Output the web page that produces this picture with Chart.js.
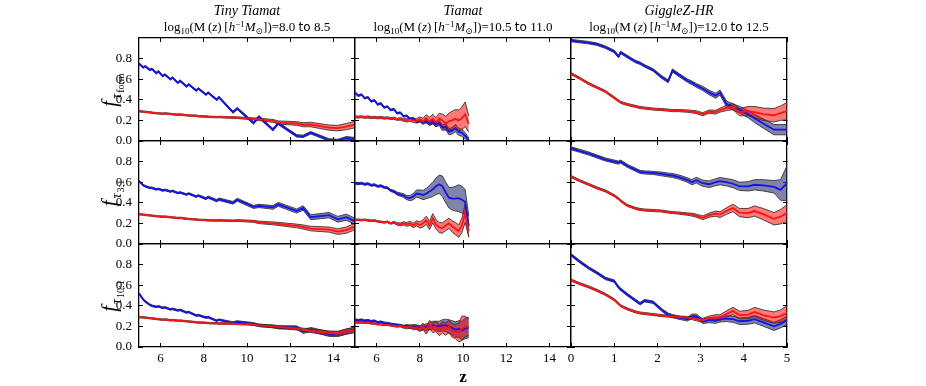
<!DOCTYPE html>
<html>
<head>
<meta charset="utf-8">
<script src="https://cdn.jsdelivr.net/npm/chart.js@4.4.1/dist/chart.umd.min.js"></script>
<style>
  body { margin: 0; background: #fff; }
  #wrap { position: relative; width: 926px; height: 386px; overflow: hidden; font-family: "Liberation Serif", "DejaVu Serif", serif; color: #000; }
  canvas { position: absolute; }
  .ttl { position: absolute; top: 3px; transform: translateX(-50%); text-align: center; white-space: nowrap; }
  .ttl .name { font-style: italic; font-size: 14px; line-height: 16px; }
  .ttl .mass { font-size: 13px; line-height: 16px; }
  .ttl .lo { display: inline-block; position: relative; top: 3px; font-size: 9px; }
  .ttl .hi { display: inline-block; position: relative; top: -4px; font-size: 9px; }
  .sf { font-family: "DejaVu Sans", sans-serif; font-size: 12px; }
  .ylab { position: absolute; left: 111px; transform: translate(-50%, -50%) rotate(-90deg); white-space: nowrap; line-height: 20px; }
  .ylab .f { font-style: italic; font-size: 21px; }
  .ylab .tau { display: inline-block; position: relative; top: 5px; font-style: italic; font-size: 14px; margin-left: 2px; }
  .ylab .sub { display: inline-block; position: relative; top: 8px; font-size: 10px; margin-left: 1px; }
  #zlab { position: absolute; left: 463px; top: 377px; transform: translate(-50%, -50%); font-weight: bold; font-size: 17px; }
</style>
</head>
<body>
<div id="wrap"></div>
<script>
// columns / rows
const simNames = ["Tiny Tiamat", "Tiamat", "GiggleZ-HR"];
const massLow = ["8.0", "10.5", "12.0"];
const massHigh = ["8.5", "11.0", "12.5"];
const rowSubs = ["form", "3:1", "10:1"];

// tick labels
const yTicks = [0, 0.2, 0.4, 0.6, 0.8];
const zTicksTiamat = [6, 8, 10, 12, 14];
const zTicksGiggle = [0, 1, 2, 3, 4, 5];

// redshift grids
const zTiny = [5.0,5.2,5.3,5.5,5.6,5.8,5.9,6.1,6.2,6.45,6.55,6.8,6.9,7.2,7.3,7.65,7.75,8.1,8.2,8.6,8.7,9.35,9.55,10.3,10.55,11.2,11.45,12.3,12.6,12.95,13.8,14.2,14.6,15.0];
const zTiamat = [5.0,5.15,5.3,5.45,5.6,5.75,5.9,6.05,6.2,6.35,6.5,6.65,6.8,6.95,7.1,7.25,7.4,7.55,7.7,7.85,8.0,8.15,8.3,8.45,8.6,8.75,8.9,9.05,9.2,9.35,9.5,9.65,9.8,9.95,10.1,10.27];
const zGiggle = [0,0.2,0.4,0.6,0.8,1.0,1.1,1.15,1.3,1.5,1.6,1.7,1.9,2.1,2.25,2.35,2.5,2.7,2.8,2.9,3.05,3.2,3.35,3.45,3.6,3.75,3.9,4.1,4.25,4.45,4.7,4.85,5.0];

// f_tau_form
const formTinyBlue = [0.75,0.715,0.725,0.69,0.70,0.66,0.675,0.63,0.645,0.60,0.615,0.565,0.585,0.53,0.55,0.49,0.51,0.45,0.47,0.40,0.425,0.28,0.315,0.175,0.235,0.11,0.17,0.05,0.045,0.08,0.01,0.005,0.03,0.02];
const formTinyBlueErr = [0.008,0.008,0.008,0.008,0.008,0.008,0.008,0.008,0.008,0.008,0.008,0.008,0.008,0.008,0.008,0.008,0.008,0.008,0.008,0.008,0.008,0.01,0.01,0.012,0.012,0.012,0.012,0.012,0.012,0.012,0.012,0.012,0.014,0.014];
const formTinyRed = [0.29,0.285,0.283,0.278,0.275,0.27,0.268,0.265,0.268,0.262,0.26,0.255,0.257,0.25,0.248,0.245,0.24,0.238,0.235,0.232,0.233,0.228,0.226,0.215,0.21,0.195,0.18,0.17,0.158,0.16,0.13,0.125,0.14,0.16];
const formTinyRedErr = [0.007,0.007,0.007,0.007,0.007,0.007,0.007,0.007,0.007,0.007,0.007,0.007,0.007,0.007,0.007,0.007,0.007,0.007,0.007,0.007,0.007,0.008,0.008,0.01,0.012,0.014,0.015,0.018,0.02,0.022,0.025,0.027,0.03,0.032];

const formTiamatBlue = [0.47,0.44,0.45,0.415,0.425,0.385,0.395,0.355,0.365,0.325,0.335,0.30,0.31,0.27,0.275,0.24,0.245,0.215,0.22,0.19,0.20,0.185,0.19,0.17,0.185,0.16,0.175,0.13,0.14,0.09,0.10,0.125,0.09,0.08,0.05,0.01];
const formTiamatBlueErr = [0.008,0.008,0.008,0.008,0.008,0.008,0.008,0.008,0.008,0.008,0.008,0.008,0.008,0.008,0.008,0.008,0.008,0.008,0.01,0.01,0.012,0.014,0.016,0.018,0.02,0.022,0.025,0.028,0.03,0.03,0.032,0.035,0.035,0.035,0.03,0.02];
const formTiamatRed = [0.235,0.232,0.235,0.23,0.233,0.228,0.23,0.225,0.228,0.222,0.225,0.218,0.22,0.21,0.215,0.205,0.2,0.21,0.2,0.195,0.21,0.19,0.22,0.19,0.215,0.18,0.22,0.2,0.17,0.19,0.2,0.215,0.2,0.22,0.26,0.165];
const formTiamatRedErr = [0.01,0.01,0.01,0.01,0.01,0.01,0.01,0.01,0.01,0.01,0.01,0.01,0.01,0.01,0.012,0.014,0.016,0.018,0.02,0.022,0.025,0.03,0.035,0.04,0.045,0.045,0.05,0.06,0.07,0.08,0.09,0.09,0.1,0.11,0.12,0.08];

const formGiggleBlue = [0.975,0.965,0.955,0.94,0.91,0.87,0.82,0.86,0.82,0.77,0.755,0.73,0.69,0.62,0.58,0.685,0.64,0.585,0.565,0.54,0.51,0.47,0.44,0.47,0.36,0.33,0.305,0.26,0.22,0.17,0.11,0.11,0.11];
const formGiggleBlueErr = [0.012,0.012,0.012,0.012,0.012,0.012,0.012,0.012,0.012,0.012,0.012,0.012,0.012,0.014,0.014,0.015,0.015,0.016,0.017,0.018,0.02,0.022,0.024,0.025,0.028,0.03,0.032,0.035,0.04,0.045,0.05,0.05,0.05];
const formGiggleRed = [0.655,0.61,0.56,0.52,0.48,0.42,0.39,0.375,0.355,0.335,0.325,0.32,0.31,0.305,0.30,0.295,0.295,0.29,0.285,0.28,0.26,0.285,0.28,0.30,0.32,0.335,0.28,0.29,0.28,0.26,0.25,0.27,0.29];
const formGiggleRedErr = [0.01,0.01,0.01,0.01,0.01,0.01,0.01,0.01,0.01,0.01,0.01,0.01,0.01,0.01,0.01,0.01,0.01,0.012,0.012,0.014,0.015,0.016,0.018,0.02,0.025,0.03,0.035,0.045,0.055,0.06,0.065,0.07,0.085];

// f_tau_3:1
const ratioTinyBlue = [0.61,0.57,0.56,0.545,0.545,0.53,0.535,0.52,0.525,0.51,0.515,0.495,0.50,0.48,0.49,0.46,0.47,0.44,0.455,0.42,0.435,0.40,0.43,0.36,0.37,0.355,0.385,0.32,0.35,0.26,0.28,0.24,0.26,0.22];
const ratioTinyBlueErr = [0.008,0.008,0.008,0.008,0.008,0.008,0.008,0.008,0.008,0.008,0.008,0.008,0.008,0.008,0.008,0.008,0.008,0.01,0.01,0.011,0.012,0.013,0.014,0.015,0.016,0.018,0.019,0.02,0.022,0.024,0.026,0.028,0.03,0.03];
const ratioTinyRed = [0.29,0.285,0.282,0.278,0.275,0.27,0.268,0.265,0.266,0.26,0.258,0.252,0.254,0.245,0.243,0.238,0.235,0.232,0.23,0.228,0.23,0.225,0.228,0.22,0.21,0.2,0.195,0.175,0.165,0.15,0.14,0.12,0.135,0.17];
const ratioTinyRedErr = [0.007,0.007,0.007,0.007,0.007,0.007,0.007,0.007,0.007,0.007,0.007,0.007,0.007,0.007,0.007,0.007,0.007,0.007,0.007,0.007,0.007,0.008,0.008,0.01,0.012,0.014,0.015,0.018,0.02,0.022,0.025,0.027,0.03,0.032];

const ratioTiamatBlue = [0.59,0.585,0.59,0.58,0.585,0.57,0.575,0.56,0.565,0.55,0.545,0.52,0.51,0.49,0.48,0.47,0.45,0.445,0.46,0.49,0.485,0.475,0.49,0.51,0.53,0.56,0.58,0.56,0.50,0.45,0.44,0.44,0.445,0.43,0.41,0.17];
const ratioTiamatBlueErr = [0.01,0.01,0.01,0.01,0.01,0.01,0.01,0.01,0.01,0.01,0.01,0.01,0.012,0.014,0.016,0.018,0.02,0.025,0.03,0.035,0.04,0.045,0.05,0.06,0.07,0.08,0.09,0.1,0.1,0.1,0.11,0.12,0.13,0.13,0.12,0.1];
const ratioTiamatRed = [0.235,0.235,0.232,0.235,0.23,0.225,0.228,0.22,0.215,0.21,0.215,0.2,0.21,0.195,0.19,0.2,0.19,0.2,0.18,0.2,0.185,0.2,0.23,0.18,0.25,0.19,0.16,0.155,0.18,0.2,0.17,0.15,0.125,0.18,0.30,0.125];
const ratioTiamatRedErr = [0.008,0.008,0.008,0.008,0.008,0.008,0.008,0.008,0.008,0.008,0.008,0.008,0.01,0.012,0.014,0.016,0.018,0.02,0.022,0.025,0.03,0.035,0.04,0.04,0.045,0.045,0.05,0.05,0.05,0.05,0.055,0.06,0.06,0.07,0.09,0.06];

const ratioGiggleBlue = [0.93,0.905,0.88,0.85,0.82,0.80,0.79,0.80,0.76,0.72,0.70,0.695,0.69,0.68,0.67,0.665,0.65,0.62,0.60,0.62,0.59,0.58,0.60,0.61,0.60,0.585,0.56,0.56,0.575,0.57,0.555,0.525,0.59];
const ratioGiggleBlueErr = [0.015,0.015,0.015,0.015,0.015,0.015,0.015,0.015,0.015,0.015,0.015,0.015,0.015,0.018,0.018,0.02,0.02,0.022,0.025,0.028,0.03,0.032,0.034,0.035,0.036,0.038,0.04,0.045,0.05,0.055,0.06,0.1,0.17];
const ratioGiggleRed = [0.655,0.615,0.58,0.545,0.515,0.47,0.44,0.42,0.375,0.345,0.335,0.33,0.325,0.32,0.31,0.305,0.30,0.29,0.285,0.275,0.255,0.28,0.295,0.285,0.32,0.35,0.305,0.30,0.32,0.29,0.245,0.265,0.30];
const ratioGiggleRedErr = [0.01,0.01,0.01,0.01,0.01,0.01,0.01,0.01,0.01,0.01,0.01,0.01,0.01,0.01,0.01,0.01,0.01,0.012,0.014,0.015,0.018,0.02,0.025,0.028,0.032,0.036,0.04,0.045,0.05,0.055,0.06,0.07,0.08];

// f_tau_10:1
const tenTinyBlue = [0.52,0.46,0.44,0.41,0.40,0.39,0.395,0.38,0.385,0.365,0.37,0.355,0.36,0.335,0.34,0.305,0.31,0.285,0.29,0.255,0.265,0.235,0.245,0.225,0.21,0.20,0.19,0.19,0.15,0.17,0.125,0.125,0.15,0.17];
const tenTinyBlueErr = [0.008,0.008,0.008,0.008,0.008,0.008,0.008,0.008,0.008,0.008,0.008,0.008,0.008,0.008,0.008,0.008,0.008,0.008,0.008,0.008,0.008,0.01,0.01,0.012,0.012,0.014,0.015,0.016,0.018,0.02,0.022,0.024,0.025,0.025];
const tenTinyRed = [0.29,0.287,0.285,0.28,0.278,0.272,0.27,0.265,0.267,0.26,0.262,0.255,0.256,0.25,0.248,0.24,0.238,0.235,0.232,0.23,0.228,0.228,0.225,0.22,0.21,0.2,0.195,0.18,0.165,0.16,0.135,0.13,0.15,0.165];
const tenTinyRedErr = [0.007,0.007,0.007,0.007,0.007,0.007,0.007,0.007,0.007,0.007,0.007,0.007,0.007,0.007,0.007,0.007,0.007,0.007,0.007,0.007,0.007,0.008,0.008,0.01,0.011,0.012,0.013,0.015,0.017,0.019,0.021,0.023,0.025,0.025];

const tenTiamatBlue = [0.265,0.26,0.265,0.255,0.26,0.25,0.255,0.24,0.245,0.235,0.232,0.225,0.22,0.215,0.21,0.2,0.205,0.195,0.2,0.195,0.185,0.19,0.195,0.2,0.21,0.205,0.2,0.21,0.21,0.2,0.185,0.17,0.175,0.16,0.18,0.19];
const tenTiamatBlueErr = [0.008,0.008,0.008,0.008,0.008,0.008,0.008,0.008,0.008,0.008,0.008,0.008,0.008,0.008,0.01,0.012,0.014,0.016,0.018,0.02,0.022,0.025,0.03,0.035,0.04,0.045,0.05,0.055,0.06,0.065,0.07,0.075,0.08,0.09,0.1,0.1];
const tenTiamatRed = [0.24,0.238,0.24,0.235,0.237,0.23,0.228,0.22,0.222,0.215,0.218,0.21,0.205,0.2,0.205,0.195,0.19,0.2,0.185,0.19,0.175,0.2,0.16,0.22,0.185,0.2,0.16,0.19,0.175,0.2,0.16,0.15,0.14,0.18,0.2,0.19];
const tenTiamatRedErr = [0.008,0.008,0.008,0.008,0.008,0.008,0.008,0.008,0.008,0.008,0.008,0.008,0.008,0.008,0.01,0.012,0.014,0.016,0.018,0.02,0.025,0.03,0.035,0.04,0.045,0.05,0.05,0.055,0.06,0.06,0.065,0.07,0.09,0.12,0.1,0.08];

const tenGiggleBlue = [0.895,0.83,0.77,0.72,0.665,0.64,0.58,0.56,0.51,0.45,0.42,0.45,0.435,0.36,0.315,0.30,0.285,0.27,0.30,0.30,0.25,0.26,0.255,0.27,0.275,0.27,0.25,0.255,0.27,0.24,0.20,0.225,0.26];
const tenGiggleBlueErr = [0.012,0.012,0.012,0.012,0.012,0.012,0.012,0.012,0.012,0.012,0.012,0.012,0.012,0.013,0.014,0.015,0.016,0.018,0.02,0.02,0.022,0.024,0.025,0.027,0.028,0.03,0.032,0.034,0.036,0.038,0.04,0.04,0.04];
const tenGiggleRed = [0.65,0.615,0.585,0.55,0.51,0.46,0.42,0.40,0.37,0.34,0.33,0.325,0.315,0.305,0.30,0.295,0.29,0.285,0.28,0.27,0.26,0.28,0.29,0.285,0.32,0.35,0.31,0.315,0.34,0.31,0.285,0.30,0.33];
const tenGiggleRedErr = [0.01,0.01,0.01,0.01,0.01,0.01,0.01,0.01,0.01,0.01,0.01,0.01,0.01,0.01,0.01,0.01,0.01,0.012,0.014,0.016,0.018,0.02,0.024,0.028,0.032,0.035,0.038,0.04,0.045,0.05,0.055,0.06,0.07];

// layout of the grid of panels
const colLeft = [139, 355, 571];
const rowTop = [38, 141, 244];
const PW = 216, PH = 103;
const PADL = 45, PADR = 8, PADT = 8, PADB = 30;

const columns = [
  { z: zTiny, min: 5, max: 15, ticks: zTicksTiamat },
  { z: zTiamat, min: 5, max: 15, ticks: zTicksTiamat },
  { z: zGiggle, min: 0, max: 5, ticks: zTicksGiggle }
];

const panels = [
  [[formTinyBlue, formTinyBlueErr, formTinyRed, formTinyRedErr],
   [formTiamatBlue, formTiamatBlueErr, formTiamatRed, formTiamatRedErr],
   [formGiggleBlue, formGiggleBlueErr, formGiggleRed, formGiggleRedErr]],
  [[ratioTinyBlue, ratioTinyBlueErr, ratioTinyRed, ratioTinyRedErr],
   [ratioTiamatBlue, ratioTiamatBlueErr, ratioTiamatRed, ratioTiamatRedErr],
   [ratioGiggleBlue, ratioGiggleBlueErr, ratioGiggleRed, ratioGiggleRedErr]],
  [[tenTinyBlue, tenTinyBlueErr, tenTinyRed, tenTinyRedErr],
   [tenTiamatBlue, tenTiamatBlueErr, tenTiamatRed, tenTiamatRedErr],
   [tenGiggleBlue, tenGiggleBlueErr, tenGiggleRed, tenGiggleRedErr]]
];

const BLUE = "#1212ea";
const RED = "#ff1212";
const BLUE_FILL = "rgba(45,50,110,0.6)";
const RED_FILL = "rgba(250,0,0,0.52)";
const EDGE = "rgba(45,45,45,0.85)";
const tickFont = { family: "Liberation Serif", size: 13 };

const wrap = document.getElementById("wrap");

function axis(pos, min, max, ticks, showLabels, size) {
  const horiz = pos === "top" || pos === "bottom";
  return {
    type: "linear",
    position: pos,
    min: min,
    max: max,
    afterBuildTicks: a => { a.ticks = ticks.map(v => ({ value: v })); },
    afterFit: a => {
      if (horiz) a.height = size; else a.width = size;
      // keep every panel's plot box the same size
      a.paddingLeft = a.paddingRight = a.paddingTop = a.paddingBottom = 0;
    },
    ticks: {
      display: showLabels,
      color: "#000",
      font: tickFont,
      padding: horiz ? 8 : 11,
      maxRotation: 0,
      autoSkip: false,
      callback: v => horiz ? String(v) : v.toFixed(1)
    },
    grid: { drawOnChartArea: false, drawTicks: true, tickLength: -4, color: "#000", lineWidth: 1 },
    border: { display: true, color: "#000", width: 1.3 }
  };
}

function makePanel(row, col) {
  const c = columns[col];
  const [blue, blueErr, red, redErr] = panels[row][col];
  const pts = (vals, err, s) => vals.map((v, i) => ({ x: c.z[i], y: v + s * err[i] }));

  const canvas = document.createElement("canvas");
  canvas.width = PW + PADL + PADR;
  canvas.height = PH + PADT + PADB;
  canvas.style.left = (colLeft[col] - PADL) + "px";
  canvas.style.top = (rowTop[row] - PADT) + "px";
  wrap.appendChild(canvas);

  const base = { pointRadius: 0, tension: 0, xAxisID: "x", yAxisID: "y" };

  new Chart(canvas, {
    type: "line",
    data: {
      datasets: [
        { ...base, data: pts(blue, blueErr, 1), borderColor: EDGE, borderWidth: 1, fill: false, order: 4 },
        { ...base, data: pts(blue, blueErr, -1), borderColor: EDGE, borderWidth: 1, backgroundColor: BLUE_FILL, fill: "-1", order: 4 },
        { ...base, data: pts(red, redErr, 1), borderColor: EDGE, borderWidth: 1, fill: false, order: 3 },
        { ...base, data: pts(red, redErr, -1), borderColor: EDGE, borderWidth: 1, backgroundColor: RED_FILL, fill: "-1", order: 3 },
        { ...base, data: pts(blue, blueErr, 0), borderColor: BLUE, borderWidth: 1.8, fill: false, order: 2 },
        { ...base, data: pts(red, redErr, 0), borderColor: RED, borderWidth: 1.8, fill: false, order: 1 }
      ]
    },
    options: {
      responsive: false,
      animation: false,
      events: [],
      layout: { padding: { top: PADT, right: PADR, left: 0, bottom: 0 } },
      plugins: { legend: { display: false }, tooltip: { enabled: false } },
      scales: {
        x: axis("bottom", c.min, c.max, c.ticks, row === 2, PADB),
        xTop: axis("top", c.min, c.max, c.ticks, false, 0),
        y: axis("left", 0, 1, yTicks, col === 0, PADL),
        yRight: axis("right", 0, 1, yTicks, false, 0)
      }
    }
  });
}

for (let r = 0; r < 3; r++) {
  for (let c = 0; c < 3; c++) makePanel(r, c);
}

// column titles
simNames.forEach((name, i) => {
  const d = document.createElement("div");
  d.className = "ttl";
  d.style.left = (colLeft[i] + PW / 2) + "px";
  d.innerHTML = '<div class="name">' + name + '</div>' +
    '<div class="mass">log<span class="lo">10</span>(M&#8201;(<i>z</i>)&#8201;[<i>h</i><span class="hi">\u22121</span><i>M</i><span class="lo">\u2299</span>])=' +
    massLow[i] + ' <span class="sf">to</span> ' + massHigh[i] + '</div>';
  wrap.appendChild(d);
});

// row labels
rowSubs.forEach((sub, i) => {
  const d = document.createElement("div");
  d.className = "ylab";
  d.style.top = (rowTop[i] + PH / 2) + "px";
  d.innerHTML = '<span class="f">f</span><span class="tau">\u03c4</span><span class="sub">' + sub + '</span>';
  wrap.appendChild(d);
});

const zl = document.createElement("div");
zl.id = "zlab";
zl.textContent = "z";
wrap.appendChild(zl);
</script>
</body>
</html>
